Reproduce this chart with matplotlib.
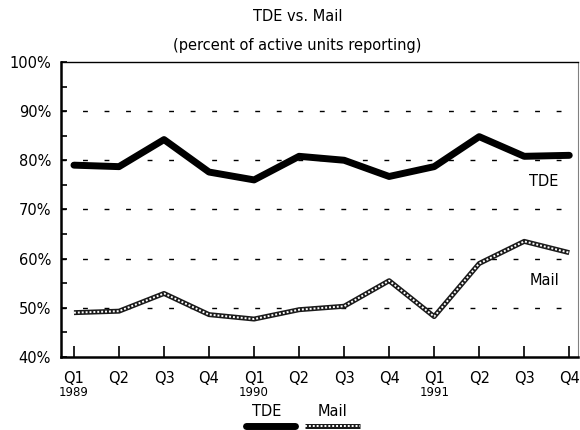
import matplotlib.pyplot as plt
import matplotlib.transforms as mtransforms
from matplotlib.lines import Line2D
import numpy as np

plt.rcParams['font.family'] = ['DejaVu Sans']

# data (percent of active units reporting)
quarters = ['Q1', 'Q2', 'Q3', 'Q4'] * 3
years = {0: '1989', 4: '1990', 8: '1991'}
tde = [79.0, 78.7, 84.2, 77.6, 76.0, 80.8, 80.0, 76.7, 78.7, 84.8, 80.8, 81.0]
mail = [49.0, 49.3, 52.9, 48.6, 47.7, 49.6, 50.3, 55.5, 48.2, 59.0, 63.5, 61.2]

x = np.arange(len(quarters))

MAIL_DARK = '0.1'
FS = 10.5

fig = plt.figure(figsize=(5.8, 4.3), dpi=100)
ax = fig.add_axes([0.105, 0.170, 0.892, 0.686])

# dashed gridlines
for v in [50, 60, 70, 80, 90]:
    ax.axhline(v, color='black', lw=1.0, dashes=(3.5, 12.0), zorder=1)

# TDE: heavy black line
ax.plot(x, tde, color='black', lw=5, solid_capstyle='round',
        solid_joinstyle='round', zorder=3)

# Mail: checkered line
ax.plot(x, mail, color=MAIL_DARK, lw=3.6, solid_capstyle='butt', zorder=3)
ax.plot(x, mail, color='white', lw=1.4, dashes=(1.0, 1.0), zorder=4)

ax.set_xlim(-0.29, 11.2)
ax.set_ylim(40, 100)

ax.set_yticks(range(40, 101, 10))
ax.set_yticklabels([f'{v}%' for v in range(40, 101, 10)], fontsize=FS)
ax.set_yticks(range(45, 100, 10), minor=True)
ax.tick_params(axis='y', which='both', direction='in', length=4, width=1.2, pad=7)

ax.set_xticks(x)
ax.set_xticklabels(quarters, fontsize=FS)
ax.tick_params(axis='x', direction='in', length=8, width=1.2, pad=10)

trans = mtransforms.blended_transform_factory(ax.transData, ax.transAxes)
for i, yr in years.items():
    ax.text(x[i], -0.122, yr, transform=trans, ha='center', va='center', fontsize=8.5)

for side in ['left', 'bottom']:
    ax.spines[side].set_linewidth(1.8)
ax.spines['top'].set_linewidth(1.0)
ax.spines['right'].set_linewidth(0.8)
ax.spines['right'].set_color('0.5')

# series labels on the right
ax.text(10.44, tde[-1] - 5.4, 'TDE', ha='center', va='center', fontsize=FS)
ax.text(10.44, mail[-1] - 5.6, 'Mail', ha='center', va='center', fontsize=FS)

# titles
fig.text(0.514, 0.962, 'TDE vs. Mail', ha='center', va='center', fontsize=FS)
fig.text(0.512, 0.895, '(percent of active units reporting)', ha='center',
         va='center', fontsize=FS)

# legend drawn below the axis
fig.text(0.459, 0.042, 'TDE', ha='center', va='center', fontsize=FS)
fig.text(0.574, 0.042, 'Mail', ha='center', va='center', fontsize=FS)
fig.add_artist(Line2D([0.424, 0.508], [0.0093, 0.0093], color='black', lw=5,
                      solid_capstyle='round', transform=fig.transFigure))
fig.add_artist(Line2D([0.526, 0.621], [0.0093, 0.0093], color=MAIL_DARK, lw=3.6,
                      solid_capstyle='butt', transform=fig.transFigure))
fig.add_artist(Line2D([0.526, 0.621], [0.0093, 0.0093], color='white', lw=1.4,
                      dashes=(1.0, 1.0), transform=fig.transFigure))

fig.savefig('out.png', dpi=100)
